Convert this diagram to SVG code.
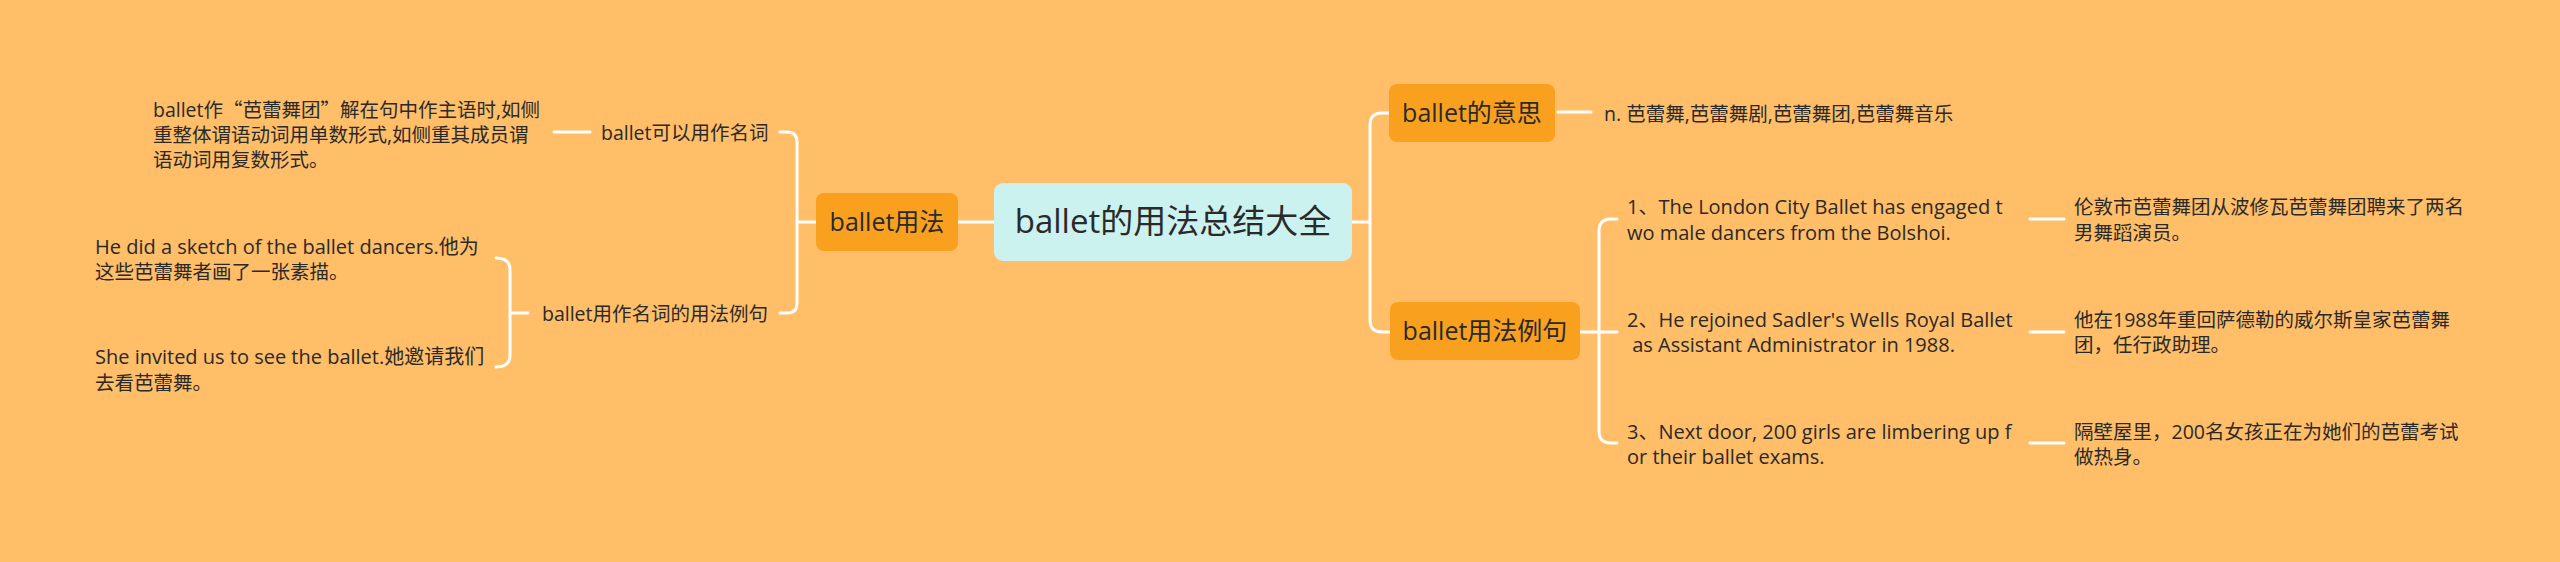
<svg xmlns="http://www.w3.org/2000/svg" width="2560" height="562" viewBox="0 0 2560 562">
<style>
text{font-family:"Open Sans","Noto Sans CJK SC",sans-serif;fill:#2a2a2a;}
.cjk{font-family:"Noto Sans CJK SC",sans-serif;}
.leaf{font-size:19.5px;}
.en{font-size:20px;}
.node{font-size:25px;text-anchor:middle;}
.root{font-size:33px;text-anchor:middle;}
.orange{fill:#F9A11F;}
.conn{fill:none;stroke:#ffffff;stroke-width:3;stroke-linecap:round;}
</style>
<rect width="2560" height="562" fill="#FFBE67"/>
<g id="connectors" class="conn">
<path d="M994 222 H957"/>
<path d="M816 222 H797"/>
<path d="M780 132 H787 Q797 132 797 142 V303 Q797 313 787 313 H780"/>
<path d="M554 132 H590"/>
<path d="M510 313 H528"/>
<path d="M496 258 Q510 258 510 270 V355 Q510 367 496 367"/>
<path d="M1352 222 H1370"/>
<path d="M1389 113 H1382 Q1370 113 1370 125 V320 Q1370 332 1382 332 H1390"/>
<path d="M1558 112 H1591"/>
<path d="M1580 332 H1617"/>
<path d="M1617 219 H1611 Q1599 219 1599 231 V431 Q1599 443 1611 443 H1617"/>
<path d="M2030 219 H2064"/>
<path d="M2030 332 H2064"/>
<path d="M2030 443 H2064"/>
</g>
<g id="root">
<rect x="994" y="183" width="358" height="78" rx="9" fill="#CCF2EF"/>
<text class="root" x="1173" y="233">ballet的用法总结大全</text>
</g>
<g id="n-usage">
<rect class="orange" x="816" y="193" width="142" height="58" rx="8"/>
<text class="node" x="887" y="231">ballet用法</text>
</g>
<g id="n-meaning">
<rect class="orange" x="1389" y="84" width="166" height="58" rx="8"/>
<text class="node" x="1472" y="122">ballet的意思</text>
</g>
<g id="n-examples">
<rect class="orange" x="1390" y="302" width="190" height="58" rx="8"/>
<text class="node" x="1485" y="340">ballet用法例句</text>
</g>
<g id="l-noun">
<text class="leaf" x="601" y="140">ballet可以用作名词</text>
</g>
<g id="l-noun-text">
<text class="leaf" x="153" y="117">ballet作<tspan class="cjk">“</tspan>芭蕾舞团<tspan class="cjk">”</tspan>解在句中作主语时,如侧</text>
<text class="leaf" x="153" y="142">重整体谓语动词用单数形式,如侧重其成员谓</text>
<text class="leaf" x="153" y="167">语动词用复数形式。</text>
</g>
<g id="l-noun-examples">
<text class="leaf" x="542" y="321">ballet用作名词的用法例句</text>
</g>
<g id="l-ex1">
<text class="leaf en" x="95" y="254">He did a sketch of the ballet dancers.他为</text>
<text class="leaf" x="95" y="279">这些芭蕾舞者画了一张素描。</text>
</g>
<g id="l-ex2">
<text class="leaf en" x="95" y="364">She invited us to see the ballet.她邀请我们</text>
<text class="leaf" x="95" y="390">去看芭蕾舞。</text>
</g>
<g id="r-meaning">
<text class="leaf" x="1604" y="121">n. 芭蕾舞,芭蕾舞剧,芭蕾舞团,芭蕾舞音乐</text>
</g>
<g id="r-ex1">
<text class="leaf en" x="1627" y="214">1、The London City Ballet has engaged t</text>
<text class="leaf en" x="1627" y="240">wo male dancers from the Bolshoi.</text>
</g>
<g id="r-ex1-cn">
<text class="leaf" x="2074" y="214">伦敦市芭蕾舞团从波修瓦芭蕾舞团聘来了两名</text>
<text class="leaf" x="2074" y="240">男舞蹈演员。</text>
</g>
<g id="r-ex2">
<text class="leaf en" x="1627" y="327">2、He rejoined Sadler's Wells Royal Ballet</text>
<text class="leaf en" x="1627" y="352" xml:space="preserve"> as Assistant Administrator in 1988.</text>
</g>
<g id="r-ex2-cn">
<text class="leaf" x="2074" y="327">他在1988年重回萨德勒的威尔斯皇家芭蕾舞</text>
<text class="leaf" x="2074" y="352">团，任行政助理。</text>
</g>
<g id="r-ex3">
<text class="leaf en" x="1627" y="439">3、Next door, 200 girls are limbering up f</text>
<text class="leaf en" x="1627" y="464">or their ballet exams.</text>
</g>
<g id="r-ex3-cn">
<text class="leaf" x="2074" y="439">隔壁屋里，200名女孩正在为她们的芭蕾考试</text>
<text class="leaf" x="2074" y="464">做热身。</text>
</g>
</svg>
